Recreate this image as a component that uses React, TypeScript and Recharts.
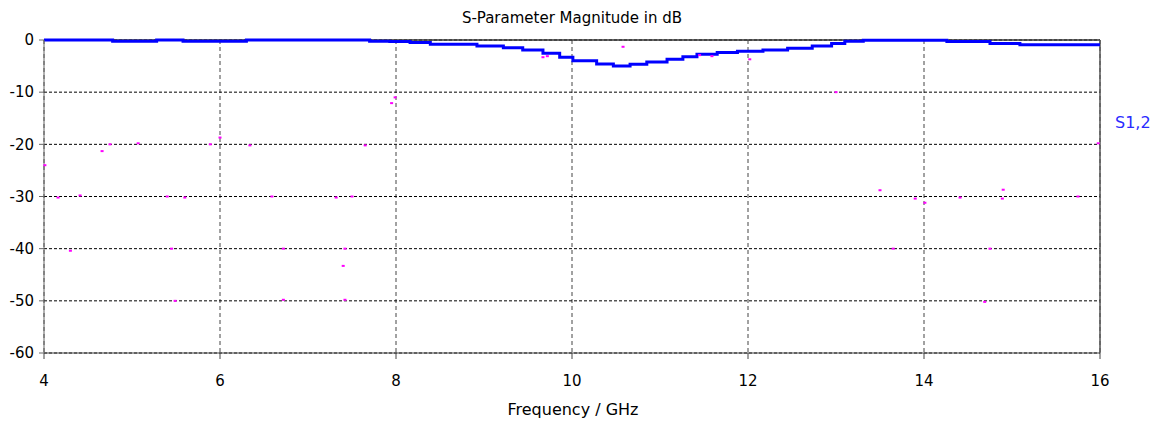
import React from 'react';
import {
  ComposedChart,
  Line,
  Scatter,
  XAxis,
  YAxis,
  CartesianGrid,
  ReferenceLine,
} from 'recharts';

// Frequency (GHz) where each step of the S1,2 trace starts
const freqGHz = [
  4.0, 4.78, 5.28, 5.58, 6.3, 7.7, 7.93, 8.16, 8.39, 8.92, 9.22, 9.44, 9.67, 9.86,
  10.01, 10.28, 10.47, 10.66, 10.85, 11.08, 11.26, 11.42, 11.65, 11.88, 12.17,
  12.45, 12.73, 12.95, 13.1, 13.31, 14.26, 14.75, 15.09, 16.0,
];
// S1,2 magnitude in dB
const s12dB = [
  0, -0.25, 0, -0.25, 0, -0.25, -0.3, -0.5, -0.8, -1.15, -1.5, -1.9, -2.55, -3.3,
  -4.0, -4.6, -5.0, -4.65, -4.2, -3.7, -3.2, -2.75, -2.4, -2.15, -1.9,
  -1.6, -1.15, -0.65, -0.25, -0.05, -0.3, -0.65, -0.9, -0.9,
];

// small magenta specks visible in the plot
const speckX = [
  4.75, 5.07, 4.66, 5.89, 6.0, 4.01, 4.16, 4.41, 5.6, 5.4, 4.3, 5.45, 6.34, 6.59,
  6.72, 7.32, 7.5, 7.42, 7.65, 7.4, 5.49, 6.72, 7.42, 7.99, 7.95, 9.72, 10.58,
  11.45, 11.59, 12.02, 9.67, 13.0, 13.5, 13.9, 14.01, 13.65, 14.41, 14.89, 14.9,
  14.75, 14.69, 15.75, 15.98,
];
const speckY = [
  -20.0, -19.8, -21.3, -20.0, -18.7, -24, -30.2, -29.8, -30.2, -30, -40.4, -40,
  -20.2, -30, -40, -30.2, -30, -40, -20.2, -43.3, -50, -49.8, -49.8, -11, -12.1,
  -3.1, -1.3, -2.9, -3.1, -3.7, -3.3, -10, -28.8, -30.4, -31.2, -40, -30.2, -30.4,
  -28.7, -40, -50.2, -30, -19.8,
];

const xTicks = [4, 6, 8, 10, 12, 14, 16];
const yTicks = [0, -10, -20, -30, -40, -50, -60];

const title = 'S-Parameter Magnitude in dB';
const xLabel = 'Frequency / GHz';
const seriesName = 'S1,2';

const lineData = freqGHz.map((f, i) => ({ f, v: s12dB[i] }));
const speckData = speckX.map((f, i) => ({ f, v: speckY[i] }));

const FONT = '"DejaVu Sans", Tahoma, sans-serif';

const Speck = (props: any) => {
  const { cx, cy } = props;
  if (cx == null || cy == null) return null;
  return <rect x={cx - 1.5} y={cy - 1} width={3} height={2} fill="#ff00ff" />;
};

export default function App() {
  return (
    <div
      style={{
        position: 'absolute',
        left: 0,
        top: 0,
        width: 1160,
        height: 424,
        background: '#fff',
        overflow: 'hidden',
        fontFamily: FONT,
      }}
    >
      <ComposedChart
        width={1160}
        height={424}
        margin={{ top: 40, right: 60, bottom: 0, left: 0 }}
      >
        <CartesianGrid
          horizontal={false}
          vertical={true}
          stroke="#444"
          strokeDasharray="4 3"
        />
        <CartesianGrid
          horizontal={true}
          vertical={false}
          stroke="#000"
          strokeDasharray="3 2"
        />
        <XAxis
          dataKey="f"
          type="number"
          domain={[4, 16]}
          ticks={xTicks}
          interval={0}
          height={71}
          tickSize={6}
          tickMargin={16}
          stroke="#444"
          tick={{ fill: '#000', fontSize: 15, fontFamily: FONT }}
        />
        <YAxis
          dataKey="v"
          type="number"
          domain={[-60, 0]}
          ticks={yTicks}
          interval={0}
          width={44}
          tickSize={5}
          tickMargin={5}
          stroke="#666"
          tick={{ fill: '#000', fontSize: 15, fontFamily: FONT }}
        />
        <ReferenceLine y={0} stroke="#333" strokeWidth={1.5} />
        <ReferenceLine x={16} stroke="#555" strokeWidth={1.5} />
        <Scatter
          data={speckData}
          dataKey="v"
          shape={<Speck />}
          isAnimationActive={false}
        />
        <Line
          data={lineData}
          dataKey="v"
          type="stepAfter"
          stroke="#0000ff"
          strokeWidth={3}
          dot={false}
          activeDot={false}
          isAnimationActive={false}
        />
      </ComposedChart>
      <div
        style={{
          position: 'absolute',
          left: 372,
          width: 400,
          top: 8,
          textAlign: 'center',
          fontSize: 15,
          lineHeight: '20px',
          color: '#000',
        }}
      >
        {title}
      </div>
      <div
        style={{
          position: 'absolute',
          left: 373,
          width: 400,
          top: 400,
          textAlign: 'center',
          fontSize: 16,
          lineHeight: '20px',
          color: '#000',
        }}
      >
        {xLabel}
      </div>
      <div
        style={{
          position: 'absolute',
          left: 1115,
          top: 113,
          fontSize: 16,
          lineHeight: '20px',
          color: '#2a2aff',
        }}
      >
        {seriesName}
      </div>
    </div>
  );
}
